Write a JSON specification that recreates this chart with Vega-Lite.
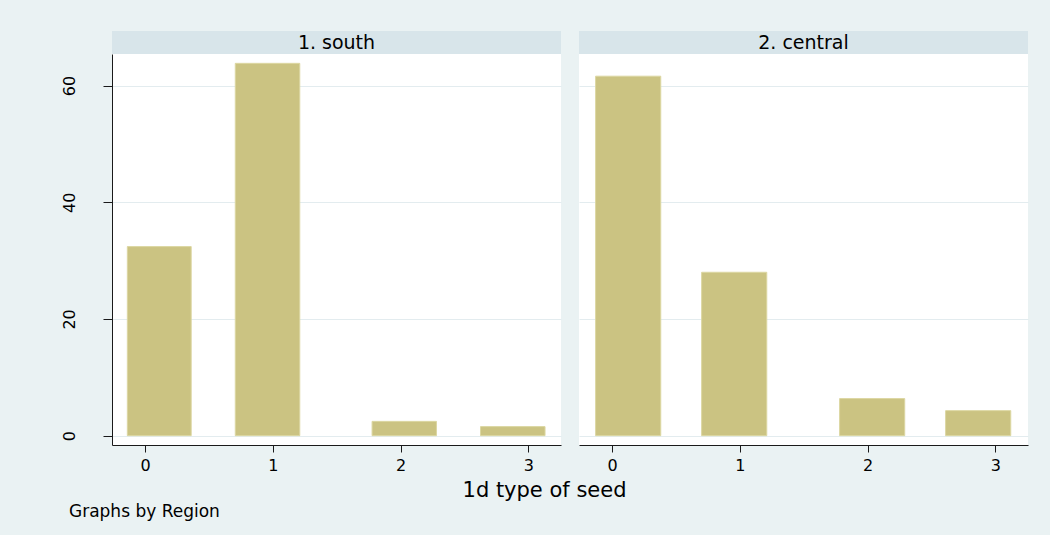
{
  "$schema": "https://vega.github.io/schema/vega-lite/v6.json",
  "background": "#EAF2F3",
  "padding": {"left": 61, "top": 31, "right": 22, "bottom": 16},
  "config": {
    "font": "DejaVu Sans",
    "view": {"stroke": null},
    "axis": {"labelFont": "DejaVu Sans", "labelColor": "#000000", "labelFontSize": 16, "domainColor": "#1a1a1a", "tickColor": "#1a1a1a", "gridColor": "#E3ECEF", "gridWidth": 1}
  },
  "datasets": {
    "bars": [
      {"region": "1. south", "x0": -0.14, "x1": 0.36, "pct": 32.4},
      {"region": "1. south", "x0": 0.705, "x1": 1.21, "pct": 63.8},
      {"region": "1. south", "x0": 1.776, "x1": 2.28, "pct": 2.45},
      {"region": "1. south", "x0": 2.625, "x1": 3.13, "pct": 1.55},
      {"region": "2. central", "x0": -0.13, "x1": 0.38, "pct": 61.6},
      {"region": "2. central", "x0": 0.7, "x1": 1.21, "pct": 28.0},
      {"region": "2. central", "x0": 1.78, "x1": 2.29, "pct": 6.35},
      {"region": "2. central", "x0": 2.61, "x1": 3.12, "pct": 4.29}
    ]
  },
  "title": {"text": "Graphs by Region", "orient": "bottom", "anchor": "start", "fontSize": 17, "fontWeight": "normal", "color": "#000000", "offset": 3, "dx": 8, "font": "DejaVu Sans"},
  "vconcat": [
    {
      "title": {"text": "1d type of seed", "orient": "bottom", "anchor": "middle", "fontSize": 21, "fontWeight": "normal", "color": "#000000", "offset": 7, "font": "DejaVu Sans"},
      "spacing": 18,
      "hconcat": [
        {
          "spacing": 0,
          "vconcat": [
            {
              "width": 449, "height": 23,
              "view": {"fill": "#D8E5EA", "stroke": null},
              "data": {"values": [{"region": "1. south"}]},
              "mark": {"type": "text", "fontSize": 19, "color": "#000000", "font": "DejaVu Sans"},
              "encoding": {"text": {"field": "region", "type": "nominal"}}
            },
            {
              "width": 449, "height": 391,
              "view": {"fill": "#FFFFFF", "stroke": null},
              "data": {"name": "bars"},
              "transform": [{"filter": "datum.region === '1. south'"}],
              "mark": {"type": "bar", "color": "#CBC382", "stroke": "#DCD7A2", "strokeWidth": 1},
              "encoding": {
                "x": {"field": "x0", "type": "quantitative", "scale": {"domain": [-0.26, 3.255], "nice": false, "zero": false},
                  "axis": {"values": [0, 1, 2, 3], "title": null, "grid": false, "tickSize": 7, "labelPadding": 5, "format": "d"}},
                "x2": {"field": "x1"},
                "y": {"field": "pct", "type": "quantitative", "scale": {"domain": [-1.6, 65.4], "nice": false, "zero": false},
                  "axis": {"values": [0, 20, 40, 60], "title": null, "grid": true, "tickSize": 9, "labelAngle": -90, "labelPadding": 26, "format": "d"}},
                "y2": {"datum": 0}
              }
            }
          ]
        },
        {
          "spacing": 0,
          "vconcat": [
            {
              "width": 449, "height": 23,
              "view": {"fill": "#D8E5EA", "stroke": null},
              "data": {"values": [{"region": "2. central"}]},
              "mark": {"type": "text", "fontSize": 19, "color": "#000000", "font": "DejaVu Sans"},
              "encoding": {"text": {"field": "region", "type": "nominal"}}
            },
            {
              "width": 449, "height": 391,
              "view": {"fill": "#FFFFFF", "stroke": null},
              "data": {"name": "bars"},
              "transform": [{"filter": "datum.region === '2. central'"}],
              "mark": {"type": "bar", "color": "#CBC382", "stroke": "#DCD7A2", "strokeWidth": 1},
              "encoding": {
                "x": {"field": "x0", "type": "quantitative", "scale": {"domain": [-0.26, 3.255], "nice": false, "zero": false},
                  "axis": {"values": [0, 1, 2, 3], "title": null, "grid": false, "tickSize": 7, "labelPadding": 5, "format": "d"}},
                "x2": {"field": "x1"},
                "y": {"field": "pct", "type": "quantitative", "scale": {"domain": [-1.6, 65.4], "nice": false, "zero": false},
                  "axis": {"values": [0, 20, 40, 60], "title": null, "grid": true, "labels": false, "ticks": false, "domain": false}},
                "y2": {"datum": 0}
              }
            }
          ]
        }
      ]
    }
  ]
}
